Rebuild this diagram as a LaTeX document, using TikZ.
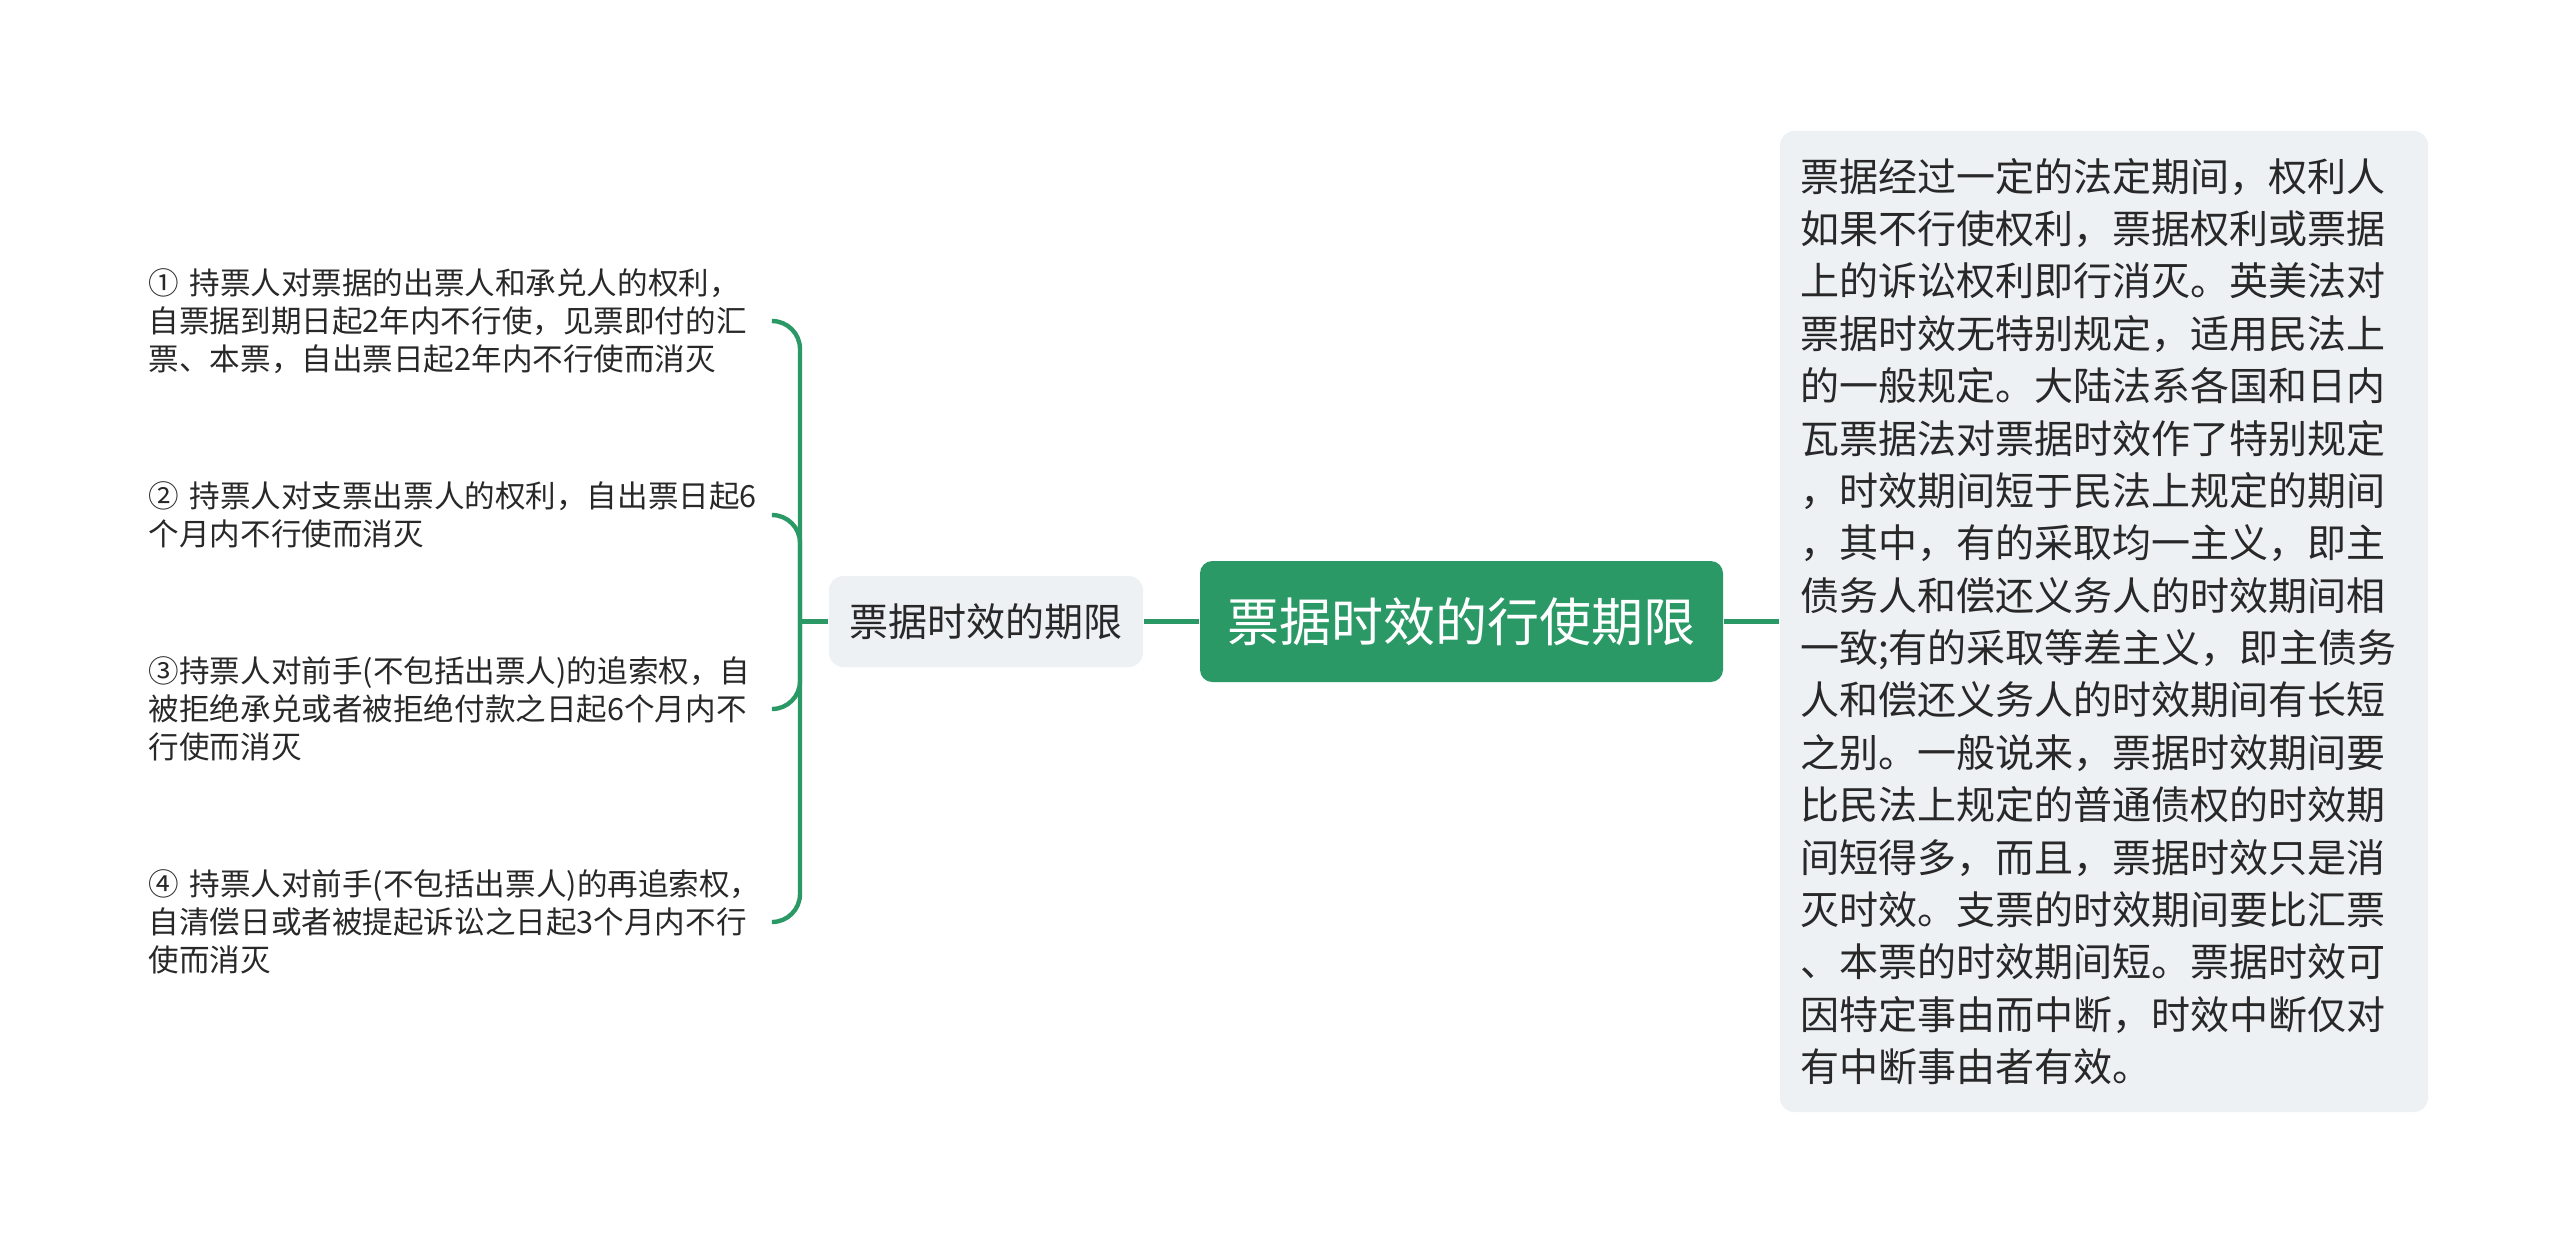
\documentclass[tikz,border=0pt]{standalone}
\usepackage{fontspec}
\setmainfont{Noto Sans CJK SC}
\usepackage{xcolor}
\definecolor{mmgreen}{RGB}{43,153,102}
\definecolor{mmgray}{RGB}{238,241,244}
\definecolor{mmtext}{RGB}{40,40,40}
\usetikzlibrary{positioning}

\begin{document}
\begin{tikzpicture}[
  rootbox/.style={fill=mmgreen,rounded corners=3.5pt,text=white,inner sep=0pt,
    minimum width=5.23cm,minimum height=1.21cm,font=\fontsize{14.8pt}{18pt}\selectfont},
  subbox/.style={fill=mmgray,rounded corners=4pt,text=mmtext,inner sep=0pt,
    minimum width=3.14cm,minimum height=0.91cm,font=\fontsize{11.1pt}{14pt}\selectfont},
  notebox/.style={fill=mmgray,rounded corners=4pt,text=mmtext,align=left,
    text width=6.08cm,inner xsep=0.2cm,minimum height=9.81cm,
    font=\fontsize{11.1pt}{14.9pt}\selectfont},
  leafbox/.style={anchor=west,text=mmtext,align=left,text width=6.14cm,
    inner xsep=0.1cm,inner ysep=0pt,font=\fontsize{8.7pt}{10.8pt}\selectfont},
  conn/.style={draw=mmgreen,line width=1.25pt,rounded corners=0.28cm}
]
  \useasboundingbox (0,0) rectangle (25.6,-12.43);
  % Root
  \node[rootbox] (root) at (14.615,-6.215) {票据时效的行使期限};
  % Left branch
  \node[subbox] (term) at (9.86,-6.215) {票据时效的期限};
  % Right note
  \node[notebox] (note) at (21.04,-6.215) {
    票据经过一定的法定期间，权利人\\
    如果不行使权利，票据权利或票据\\
    上的诉讼权利即行消灭。英美法对\\
    票据时效无特别规定，适用民法上\\
    的一般规定。大陆法系各国和日内\\
    瓦票据法对票据时效作了特别规定\\
    ，时效期间短于民法上规定的期间\\
    ，其中，有的采取均一主义，即主\\
    债务人和偿还义务人的时效期间相\\
    一致;有的采取等差主义，即主债务\\
    人和偿还义务人的时效期间有长短\\
    之别。一般说来，票据时效期间要\\
    比民法上规定的普通债权的时效期\\
    间短得多，而且，票据时效只是消\\
    灭时效。支票的时效期间要比汇票\\
    、本票的时效期间短。票据时效可\\
    因特定事由而中断，时效中断仅对\\
    有中断事由者有效。
  };
  % Leaves
  \node[leafbox] (l1) at (1.38,-3.21) {
    ① 持票人对票据的出票人和承兑人的权利，\\
    自票据到期日起2年内不行使，见票即付的汇\\
    票、本票，自出票日起2年内不行使而消灭
  };
  \node[leafbox] (l2) at (1.38,-5.15) {
    ② 持票人对支票出票人的权利，自出票日起6\\
    个月内不行使而消灭
  };
  \node[leafbox] (l3) at (1.38,-7.09) {
    ③持票人对前手(不包括出票人)的追索权，自\\
    被拒绝承兑或者被拒绝付款之日起6个月内不\\
    行使而消灭
  };
  \node[leafbox] (l4) at (1.38,-9.22) {
    ④ 持票人对前手(不包括出票人)的再追索权，\\
    自清偿日或者被提起诉讼之日起3个月内不行\\
    使而消灭
  };
  \coordinate (tr) at (8.0,-6.215);
  % Connectors
  \draw[conn] (root) -- (term);
  \draw[conn] (root) -- (note);
  \draw[conn] (tr) -- (term);
  \draw[conn] (l1.east) -| (tr) |- (l4.east);
  \draw[conn] (l2.east) -| (tr);
  \draw[conn] (l3.east) -| (tr);
\end{tikzpicture}
\end{document}
